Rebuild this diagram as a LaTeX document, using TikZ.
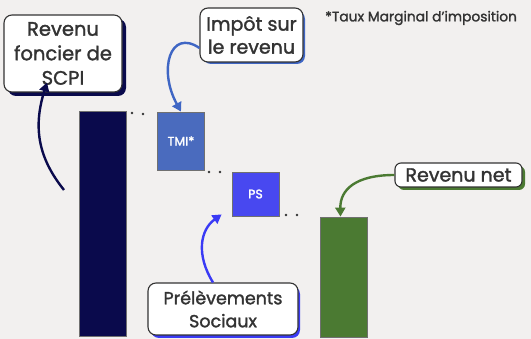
\documentclass[tikz,border=0pt]{standalone}
\usepackage{fontspec}
\setmainfont{Poppins}[FakeBold=1.6]
\usetikzlibrary{arrows.meta}
\definecolor{bgc}{HTML}{F2F0EF}
\definecolor{navy}{HTML}{0A0A4C}
\definecolor{tmic}{HTML}{4A6BBE}
\definecolor{psc}{HTML}{4848F0}
\definecolor{greenc}{HTML}{4B7A32}
\definecolor{txt}{HTML}{333333}
\definecolor{arrblue}{HTML}{3F66C4}
\definecolor{arrps}{HTML}{3A3AF5}
\tikzset{
  label box/.style={draw=txt, line width=1.1pt, fill=white, rounded corners=8pt,
    text=txt, align=center, inner sep=0pt},
  bar/.style={draw=txt!70, line width=0.8pt, inner sep=0pt},
  curvearrow/.style={line width=2.4pt, -{Triangle[width=10pt,length=9pt]}},
  dot/.style={circle, fill=txt, inner sep=0pt, minimum size=2.6pt},
}
\begin{document}
\begin{tikzpicture}[x=1pt,y=-1pt]
\fill[bgc] (0,0) rectangle (531,339);
\useasboundingbox (0,0) rectangle (531,339);

% bars
\node[bar, fill=navy, minimum width=47pt, minimum height=225pt] (bar1) at (102.5,223.5) {};
\node[bar, fill=tmic, minimum width=47pt, minimum height=58pt, text=white, font=\fontsize{12.5}{13}\selectfont] (tmi) at (181,141) {TMI*};
\node[bar, fill=psc, minimum width=47pt, minimum height=44pt, text=white, font=\fontsize{12.5}{13}\selectfont] (ps) at (255.5,194) {PS};
\node[bar, fill=greenc, minimum width=47pt, minimum height=120pt] (bar2) at (343.5,277) {};

% dots
\node[dot] (d1) at (132,113) {}; \node[dot] (d2) at (143,114) {};
\node[dot] (d3) at (209,172) {}; \node[dot] (d4) at (220,172) {};
\node[dot] (d5) at (286,215) {}; \node[dot] (d6) at (297,215) {};

% shadows
\fill[navy, rounded corners=8pt] (8,19) rectangle (126,96);
\fill[arrblue, rounded corners=8pt] (203,11) rectangle (305,64);
\fill[arrps, rounded corners=8pt] (151,286) rectangle (300,338);
\fill[greenc, rounded corners=6pt] (398,166) rectangle (525,190);

% label boxes
\node[label box, minimum width=118pt, minimum height=77pt,
  font=\fontsize{19.5}{24.5}\selectfont] (scpi) at (63,53.5) {Revenu\\foncier de\\SCPI};
\node[label box, minimum width=103pt, minimum height=54pt,
  font=\fontsize{19}{23}\selectfont] (impot) at (251.5,35) {Impôt sur\\le revenu};
\node[label box, minimum width=150pt, minimum height=52pt,
  font=\fontsize{17.5}{23}\selectfont] (prel) at (223,309) {Prélèvements\\Sociaux};
\node[label box, rounded corners=6pt, minimum width=127pt, minimum height=24pt,
  font=\fontsize{19}{20}\selectfont] (revnet) at (458.5,175) {Revenu net};

\node[text=txt, font=\fontsize{13.8}{14}\selectfont, anchor=west, inner sep=0pt] (note) at (325,18) {*Taux Marginal d'imposition};

% arrows
\coordinate (a1s) at (64,190);
\draw[curvearrow, navy] (a1s) .. controls (40,160) and (32,130) .. ([xshift=-16pt,yshift=10pt]scpi.south);
\draw[curvearrow, arrblue] ([yshift=-13pt]impot.west) .. controls (170,28) and (158,70) .. (tmi.north);
\draw[curvearrow, arrps] ([xshift=-10pt]prel.north) .. controls (196,255) and (200,230) .. ([yshift=2pt,xshift=-10pt]ps.south west);
\draw[curvearrow, greenc] (revnet.west) .. controls (355,175) and (340,190) .. ([xshift=-3pt]bar2.north);
\end{tikzpicture}
\end{document}
